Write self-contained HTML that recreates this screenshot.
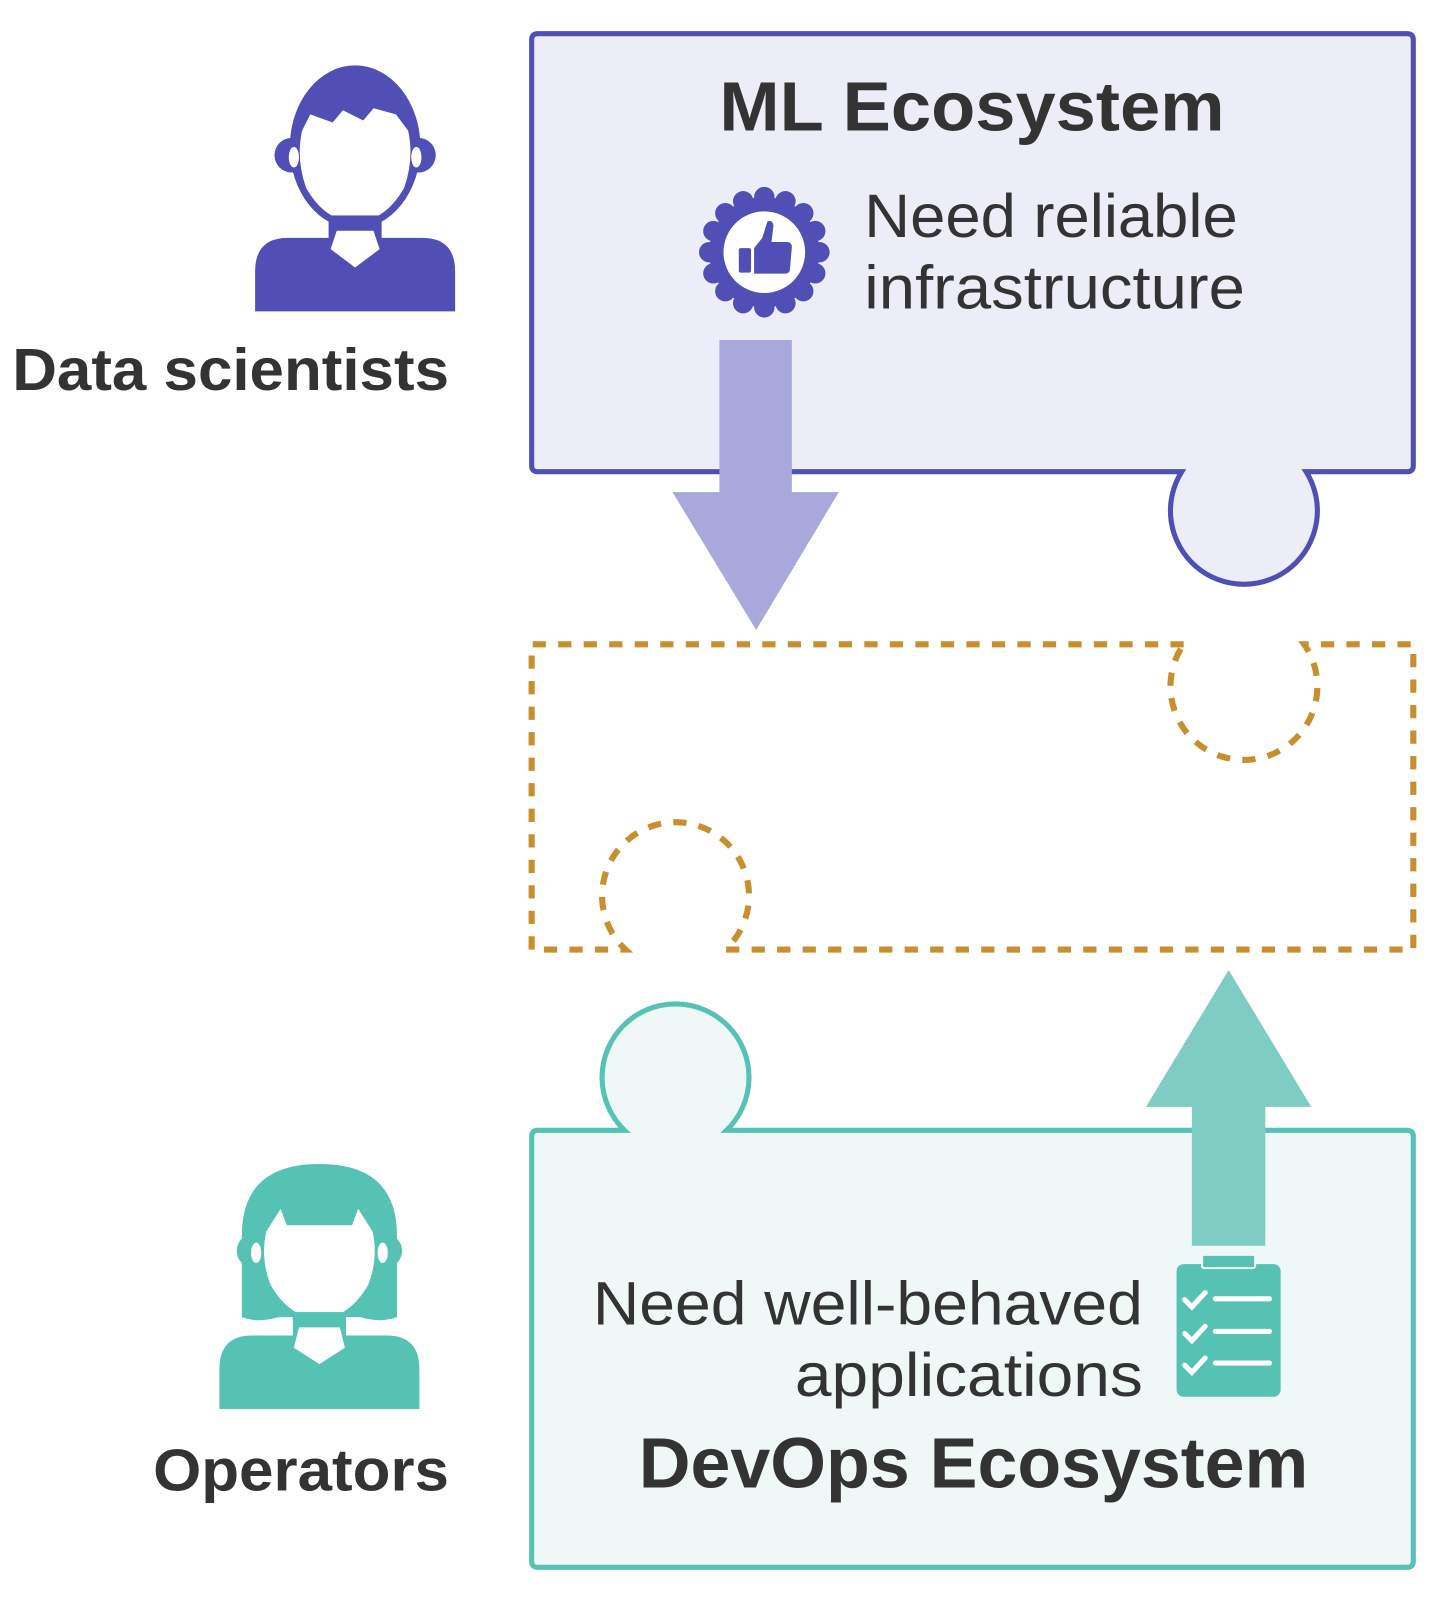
<!DOCTYPE html>
<html><head><meta charset="utf-8"><style>
html,body{margin:0;padding:0;background:#fff;}
svg{display:block;}
text{font-family:"Liberation Sans",Arial,sans-serif;fill:#333;}
</style></head><body>
<svg width="1448" height="1600" viewBox="0 0 1419 1567" preserveAspectRatio="none" xmlns="http://www.w3.org/2000/svg">
<path d="M527,33 H1379 Q1385,33 1385,39 V456 Q1385,462 1379,462 H1280 A72 72 0 1 1 1158 462 H527 Q521,462 521,456 V39 Q521,33 527,33 Z" fill="#ededf7" stroke="#4f4fb5" stroke-width="5"/>
<text x="705" y="128" font-size="68" font-weight="bold" textLength="495" lengthAdjust="spacingAndGlyphs">ML Ecosystem</text>
<text x="847" y="232" font-size="60" textLength="366" lengthAdjust="spacingAndGlyphs">Need reliable</text>
<text x="847" y="302" font-size="60" textLength="373" lengthAdjust="spacingAndGlyphs">infrastructure</text>
<g transform="translate(749,247)" fill="#4f4fb5">
<circle r="54"/>
<g>
<circle cx="54" cy="0" r="10"/><circle cx="49.9" cy="20.7" r="10"/><circle cx="38.2" cy="38.2" r="10"/><circle cx="20.7" cy="49.9" r="10"/>
<circle cx="0" cy="54" r="10"/><circle cx="-20.7" cy="49.9" r="10"/><circle cx="-38.2" cy="38.2" r="10"/><circle cx="-49.9" cy="20.7" r="10"/>
<circle cx="-54" cy="0" r="10"/><circle cx="-49.9" cy="-20.7" r="10"/><circle cx="-38.2" cy="-38.2" r="10"/><circle cx="-20.7" cy="-49.9" r="10"/>
<circle cx="0" cy="-54" r="10"/><circle cx="20.7" cy="-49.9" r="10"/><circle cx="38.2" cy="-38.2" r="10"/><circle cx="49.9" cy="-20.7" r="10"/>
</g>
<circle r="40" fill="#fff"/>
<rect x="-25" y="-4" width="12" height="24" rx="2"/>
<path d="M-10,-4 L-2,-14 L3,-30 Q8,-32 9,-26 L7,-10 L22,-10 Q27,-10 27,-5 L25,18 Q24,21 20,21 L-10,21 Z"/>
</g>
<polygon points="705,333 776,333 776,482 822,482 741,617 659,482 705,482" fill="#a9a8dc"/>
<path d="M1160,631 H521 V930 H613 A72 72 0 1 1 711 930 H1385 V631 H1278 A72 72 0 1 1 1160 631" fill="none" stroke="#c98f2e" stroke-width="6" stroke-dasharray="13,12"/>
<path d="M527,1107 H612 A72 72 0 1 1 712 1107 H1379 Q1385,1107 1385,1113 V1529 Q1385,1535 1379,1535 H527 Q521,1535 521,1529 V1113 Q521,1107 527,1107 Z" fill="#eff8f7" stroke="#55c2b3" stroke-width="5"/>
<polygon points="1168,1220 1240,1220 1240,1084 1285,1084 1204,950 1123,1084 1168,1084" fill="#7fcdc2"/>
<g>
<rect x="1153" y="1238" width="102" height="130" rx="7" fill="#55c2b3"/>
<rect x="1178" y="1229" width="52" height="13" rx="2" fill="#55c2b3" stroke="#eff8f7" stroke-width="2"/>
<g stroke="#fff" stroke-width="5" stroke-linecap="round" fill="none">
<polyline points="1161,1273 1168,1280 1181,1266"/>
<polyline points="1161,1306 1168,1313 1181,1299"/>
<polyline points="1161,1337 1168,1344 1181,1330"/>
<line x1="1191" y1="1272" x2="1244" y2="1272"/>
<line x1="1191" y1="1304" x2="1244" y2="1304"/>
<line x1="1191" y1="1335" x2="1244" y2="1335"/>
</g>
</g>
<text x="581" y="1297" font-size="60" textLength="539" lengthAdjust="spacingAndGlyphs">Need well-behaved</text>
<text x="779" y="1367" font-size="60" textLength="341" lengthAdjust="spacingAndGlyphs">applications</text>
<text x="626" y="1457" font-size="70" font-weight="bold" textLength="656" lengthAdjust="spacingAndGlyphs">DevOps Ecosystem</text>
<g transform="translate(348,66)" fill="#4f4fb5">
<ellipse cx="0" cy="78" rx="64" ry="80"/>
<circle cx="-62" cy="86" r="17"/><circle cx="62" cy="86" r="17"/>
<ellipse cx="-60" cy="88" rx="5" ry="10" fill="#fff"/><ellipse cx="60" cy="88" rx="5" ry="10" fill="#fff"/>
<path d="M-52,62 L-44,46 L-22,54 L-12,42 L8,52 L18,40 L40,46 L52,62 Q58,90 48,118 Q30,150 0,152 Q-30,150 -48,118 Q-58,90 -52,62 Z" fill="#fff"/>
<rect x="-26" y="145" width="52" height="30"/>
<path d="M-98,239 V200 Q-98,167 -66,167 H66 Q98,167 98,200 V239 Q98,239 92,239 H-92 Q-98,239 -98,239 Z"/>
<path d="M-18,160 L18,160 L24,178 L0,196 L-24,178 Z" fill="#fff"/>
</g>
<text x="12" y="382" font-size="58" font-weight="bold" textLength="428" lengthAdjust="spacingAndGlyphs">Data scientists</text>
<g transform="translate(313,1140)" fill="#55c2b3">
<path d="M-76,150 V70 Q-76,0 0,0 Q76,0 76,70 V150 Q60,156 40,150 L-40,150 Q-60,156 -76,150 Z"/>
<circle cx="-64" cy="85" r="17"/><circle cx="64" cy="85" r="17"/>
<ellipse cx="-62" cy="87" rx="5" ry="10" fill="#fff"/><ellipse cx="62" cy="87" rx="5" ry="10" fill="#fff"/>
<path d="M-52,66 L-38,44 L-32,60 L32,60 L38,44 L52,66 Q58,92 48,118 Q30,150 0,152 Q-30,150 -48,118 Q-58,92 -52,66 Z" fill="#fff"/>
<rect x="-26" y="145" width="52" height="30"/>
<path d="M-98,240 V201 Q-98,168 -66,168 H66 Q98,168 98,201 V240 H-98 Z"/>
<path d="M-20,160 L20,160 L25,180 L0,196 L-25,180 Z" fill="#fff"/>
</g>
<text x="150" y="1460" font-size="58" font-weight="bold" textLength="290" lengthAdjust="spacingAndGlyphs">Operators</text>
</svg>
</body></html>
